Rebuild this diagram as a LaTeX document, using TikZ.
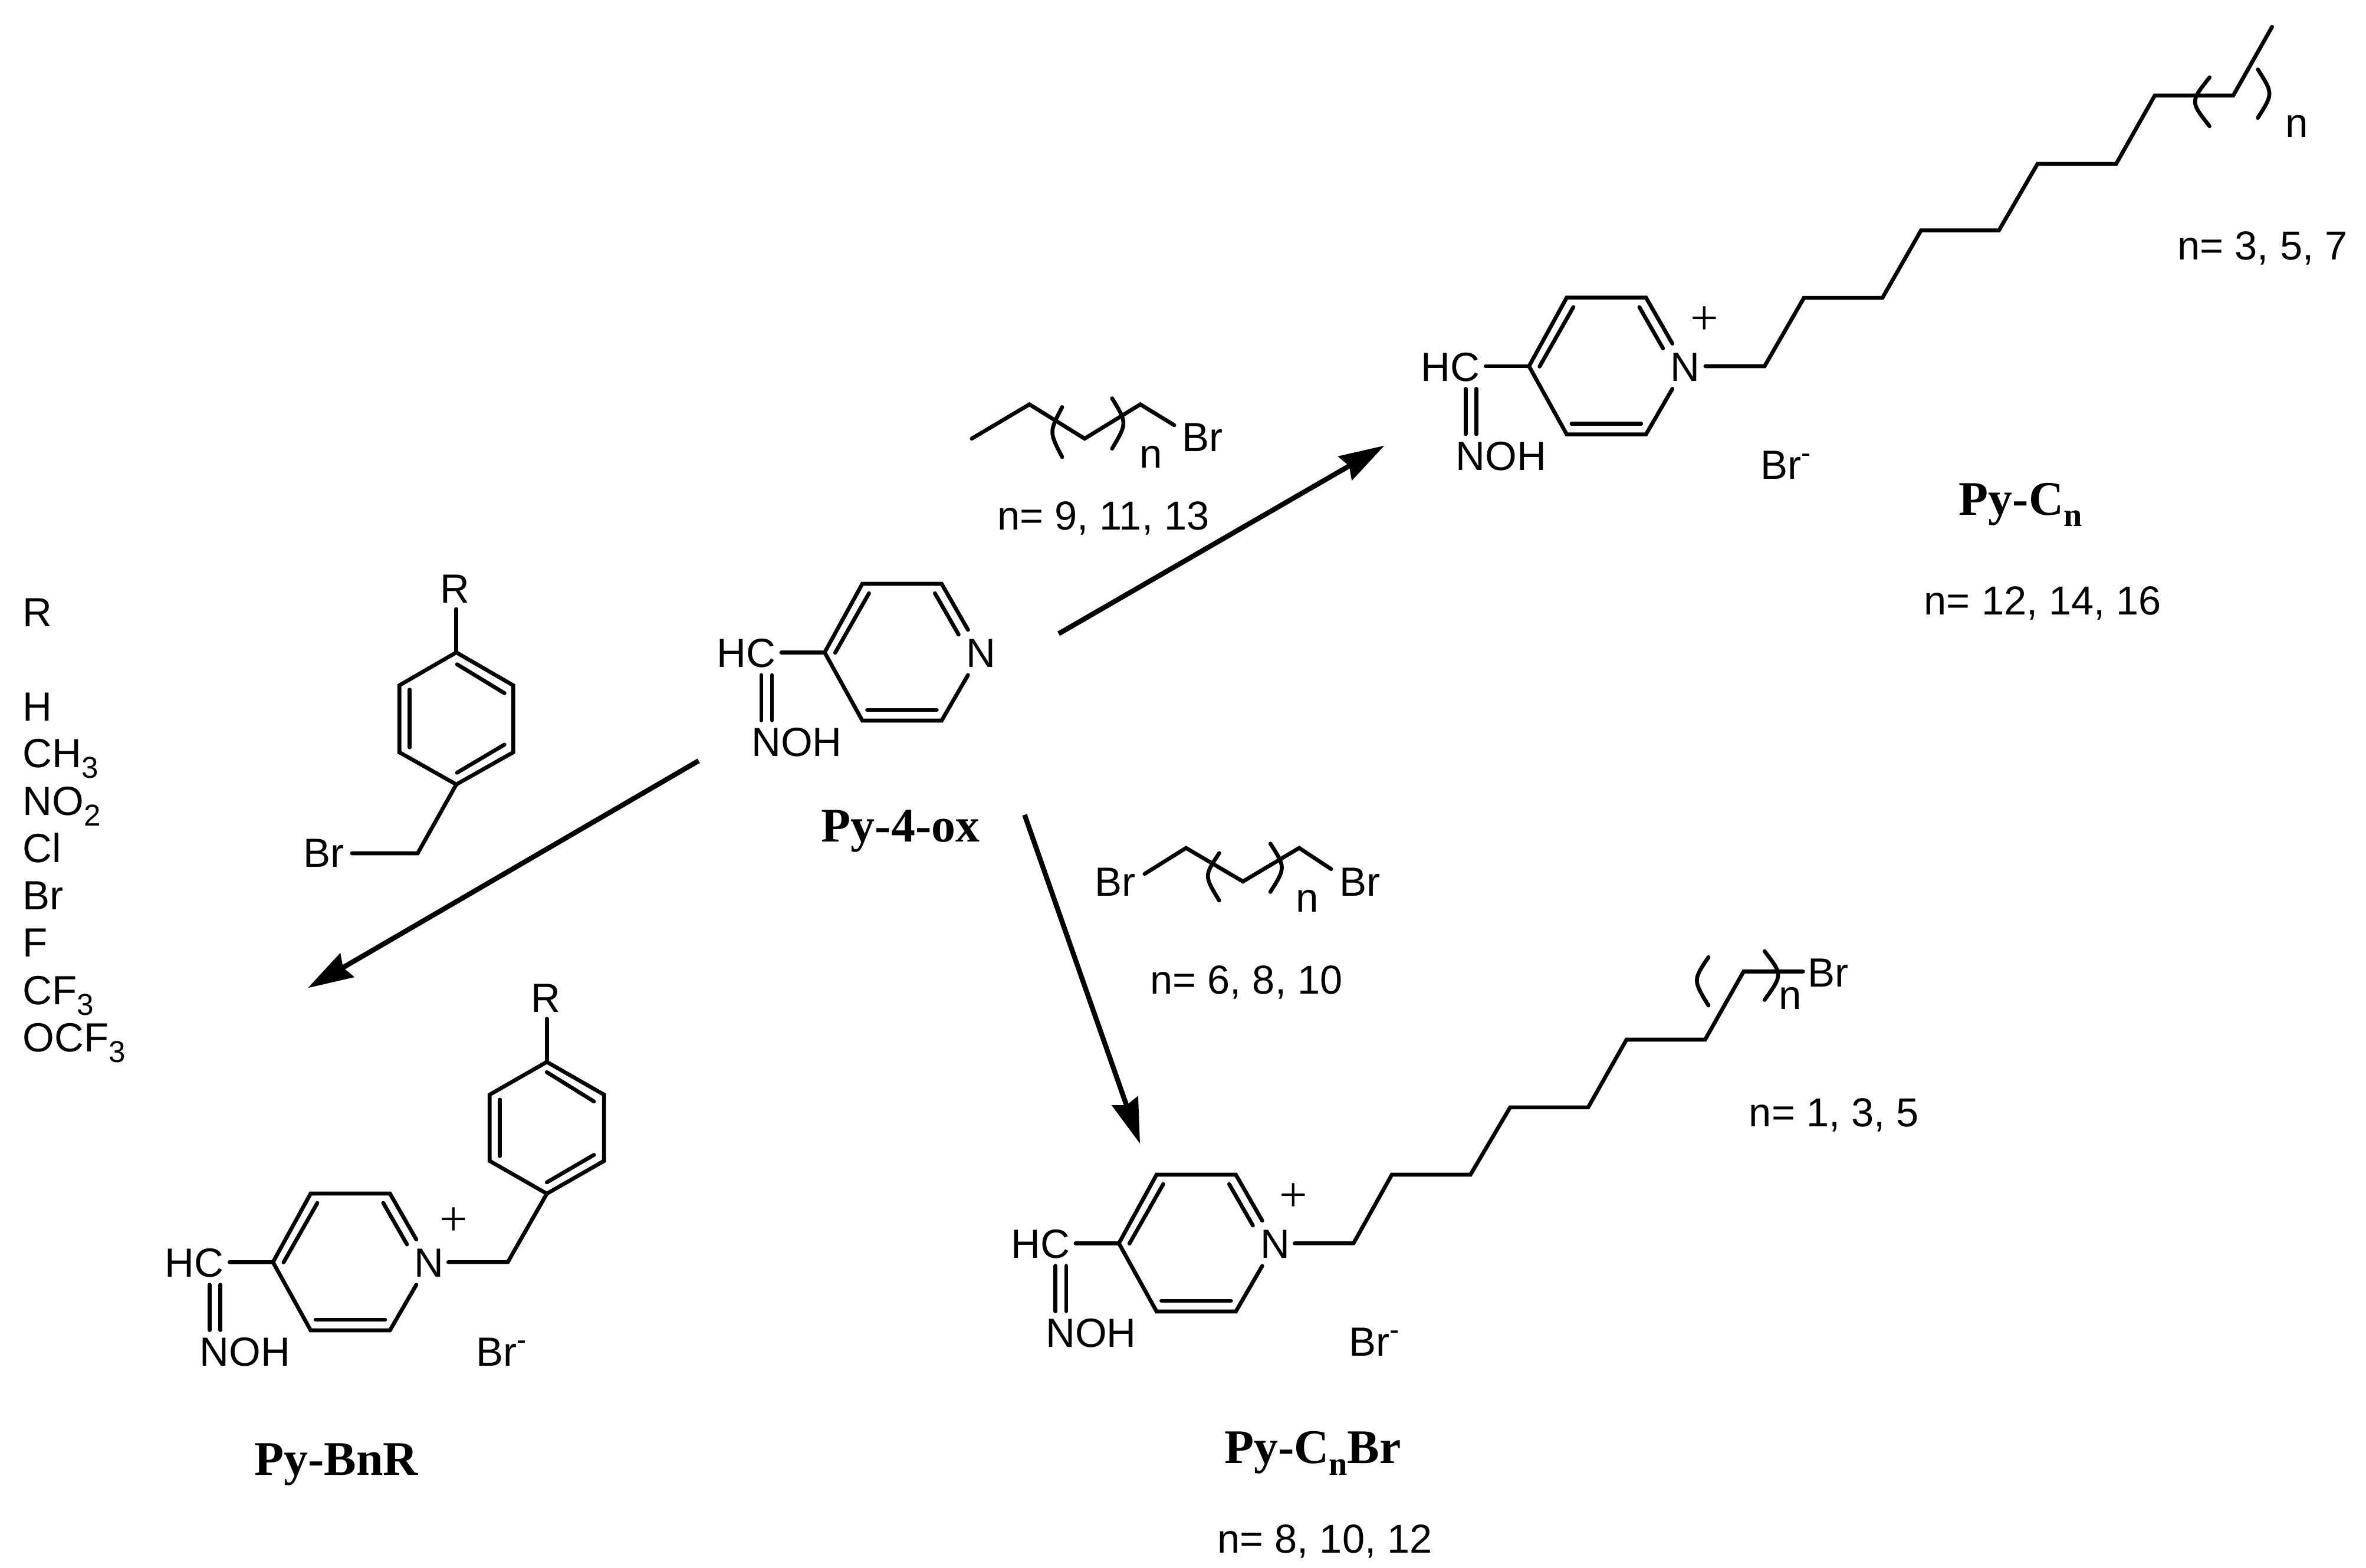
\documentclass[tikz,border=0pt]{standalone}
\usepackage{fontspec}
\setmainfont{Liberation Sans}
\newfontfamily\tnr{Liberation Serif}
\usetikzlibrary{arrows.meta}
\newcommand{\subs}[1]{\raisebox{-7pt}{\fontsize{20}{20}\selectfont #1}}
\newcommand{\bromide}{Br\raisebox{11pt}{\fontsize{19}{19}\selectfont -}}
\newcommand{\subb}[1]{\raisebox{-7.5pt}{\fontsize{22}{22}\selectfont #1}}
\tikzset{
  bond/.style={line width=2.6pt,line cap=round,line join=miter,miter limit=10},
  rxn/.style={line width=3.3pt,-{Stealth[length=30pt,width=18pt,inset=3pt]}},
  atom/.style={inner sep=0pt,text height=19.3pt,text depth=0pt,font=\fontsize{27}{30}\selectfont},
  idx/.style={inner sep=0pt,text height=14pt,text depth=0pt,font=\fontsize{27}{30}\selectfont},
  note/.style={inner sep=0pt,text height=19.3pt,text depth=0pt,font=\fontsize{26.8}{30}\selectfont},
  listitem/.style={inner sep=0pt,anchor=base west,font=\fontsize{27}{30}\selectfont},
  title/.style={inner sep=0pt,text height=21pt,text depth=0pt,font=\tnr\bfseries\fontsize{32}{36}\selectfont},
  charge/.style={inner sep=0pt,font=\tnr\fontsize{33}{35}\selectfont},
  oxime/.pic={
    \coordinate (-c4) at (0,0);
    \coordinate (-tl) at (25,-45.5);
    \coordinate (-tr) at (77.5,-45.5);
    \coordinate (-br) at (77.5,45.2);
    \coordinate (-bl) at (25,45.2);
    \coordinate (-na) at (95,-15);
    \coordinate (-nb) at (95,15);
    \node[atom] (-n) at (103.5,0.3) {N};
    \node[atom] (-hc) at (-52,0.3) {HC};
    \node[atom] (-noh) at (-18.5,59.3) {NOH};
    \draw[bond] (-na) -- (-tr) -- (-tl) -- (-c4) -- (-bl) -- (-br) -- (-nb);
    \draw[bond] (29.4,-39.2) -- (7,0.2);
    \draw[bond] (73.1,-39.2) -- (88.8,-11.8);
    \draw[bond] (28.2,38.1) -- (74.3,38.1);
    \draw[bond] (-28.7,0) -- (-c4);
    \draw[bond] (-42,15) -- (-42,45);
    \draw[bond] (-34.9,15) -- (-34.9,45);
  }
}
\begin{document}
\begin{tikzpicture}[x=1pt,y=-1pt]
\useasboundingbox (0,0) rectangle (1568,1039.2);

% Molecules with the oxime ring
\pic (ox) at (546.5,432.4) {oxime};
\pic (cn) at (1013.3,242.7) {oxime};
\pic (cb) at (741.5,824) {oxime};
\pic (bn) at (180.9,836.5) {oxime};

% Py-Cn chain
\draw[bond] (1130.2,242.7) -- (1169.4,242.7) -- (1195.5,197.4) -- (1247.5,197.4) -- (1273.1,152.7) -- (1324.7,152.7) -- (1350.3,108.6) -- (1402.4,108.6) -- (1428,63.3) -- (1480,63.3) -- (1505.7,17.8);
\draw[bond] (1464.3,51.3) .. controls (1451.5,67.4) .. (1464.3,83.6);
\draw[bond] (1496.3,46) .. controls (1506.5,62) .. (1496.3,78.1);
\node[idx] (cnidx) at (1522,84) {n};
\node[charge] (cnplus) at (1129.7,212.5) {+};
\node[atom,anchor=west] (cnbr) at (1166.5,307.8) {\bromide};
\node[note] (cnn1) at (1499.4,162.5) {n= 3, 5, 7};
\node[note] (cnn2) at (1353.8,397.6) {n= 12, 14, 16};
\node[title] (cnt) at (1339,331) {Py-C\subb{n}};

% Py-CnBr chain
\draw[bond] (858,824) -- (897,824) -- (922.4,778.5) -- (974.5,778.5) -- (1000.8,733.9) -- (1052.5,733.9) -- (1077.9,689) -- (1130,689) -- (1155.5,643.9) -- (1194.9,643.9);
\draw[bond] (1132.2,634.4) .. controls (1122,649.6) .. (1132.2,666.4);
\draw[bond] (1169.4,630.4) .. controls (1181.4,646) .. (1169.4,662.7);
\node[idx] (cbidx) at (1186.4,661.7) {n};
\node[atom] (cbend) at (1211.4,644.5) {Br};
\node[charge] (cbplus) at (857.2,793.5) {+};
\node[atom,anchor=west] (cbbr) at (893.7,889) {\bromide};
\node[note] (cbn1) at (1215.4,737) {n= 1, 3, 5};
\node[note] (cbn2) at (878,1019.5) {n= 8, 10, 12};
\node[title] (cbt) at (870,959.5) {Py-C\subb{n}Br};

% Py-BnR
\draw[bond] (297.1,836.5) -- (336.5,836.5) -- (362.4,791.1);
\draw[bond] (362.4,791.1) -- (400.3,769.4) -- (400.3,725.5) -- (362.4,703.8) -- (324.5,725.5) -- (324.5,769.4) -- cycle;
\draw[bond] (362.4,710.6) -- (393.6,730);
\draw[bond] (331.2,728.8) -- (331.2,766.2);
\draw[bond] (362.4,783.6) -- (393.6,765.4);
\draw[bond] (362.4,675.2) -- (362.4,703.8);
\node[atom] (bnr) at (361.7,661) {R};
\node[charge] (bnplus) at (300.8,809.8) {+};
\node[atom,anchor=west] (bnbr) at (315.2,895.8) {\bromide};
\node[title] (bnt) at (222.8,967) {Py-BnR};

% Py-4-ox title
\node[title] (oxt) at (596.8,547.4) {Py-4-ox};

% Benzyl bromide reagent
\draw[bond] (302.4,432.4) -- (340.1,454.2) -- (340.1,498.6) -- (302.4,519.9) -- (264.7,498.6) -- (264.7,454.2) -- cycle;
\draw[bond] (302.9,440.3) -- (334.3,459.4);
\draw[bond] (271.5,457.1) -- (271.5,495.3);
\draw[bond] (302.9,512.1) -- (334.3,493.5);
\draw[bond] (302.4,403.7) -- (302.4,432.4);
\draw[bond] (302.4,519.9) -- (276.8,565.5) -- (233.3,565.5);
\node[atom] (rr) at (301.5,389.8) {R};
\node[atom] (rbr) at (214.5,565) {Br};

% Alkyl bromide reagent
\draw[bond] (644,290.7) -- (682.2,268) -- (718.8,290.7) -- (755.7,268) -- (778.2,281.8);
\draw[bond] (703.9,269.8) .. controls (695.3,286.3) .. (703.9,302.9);
\draw[bond] (737,264) .. controls (747,280.4) .. (737,297.3);
\node[atom] (abr) at (796.9,289.7) {Br};
\node[idx] (aidx) at (762.7,303.3) {n};
\node[note] (an) at (731.2,341.5) {n= 9, 11, 13};

% Dibromide reagent
\draw[bond] (758.5,579.2) -- (786,562) -- (823.7,584.2) -- (861,562) -- (882.2,576);
\draw[bond] (808,565.4) .. controls (798,580.5) .. (808,596.8);
\draw[bond] (841.9,559.1) .. controls (852,575) .. (841.9,591.1);
\node[atom] (dbr1) at (739,584.2) {Br};
\node[atom] (dbr2) at (901.2,584.2) {Br};
\node[idx] (didx) at (866.5,597.4) {n};
\node[note] (dn) at (826,649) {n= 6, 8, 10};

% R substituent list
\node[listitem] (l0) at (15,415.2) {R};
\node[listitem] (l1) at (15,477.8) {H};
\node[listitem] (l2) at (15,508.8) {CH\subs{3}};
\node[listitem] (l3) at (15,540.2) {NO\subs{2}};
\node[listitem] (l4) at (15,571.5) {Cl};
\node[listitem] (l5) at (15,603) {Br};
\node[listitem] (l6) at (15,634.3) {F};
\node[listitem] (l7) at (15,665.7) {CF\subs{3}};
\node[listitem] (l8) at (15,697) {OCF\subs{3}};

% Reaction arrows
\coordinate (a1s) at (701.6,420);
\coordinate (a1e) at (917.5,295.3);
\coordinate (a2s) at (463,504.2);
\coordinate (a2e) at (204,654.8);
\coordinate (a3s) at (679,540);
\coordinate (a3e) at (755.5,758);
\draw[rxn] (a1s) -- (a1e);
\draw[rxn] (a2s) -- (a2e);
\draw[rxn] (a3s) -- (a3e);
\end{tikzpicture}
\end{document}
